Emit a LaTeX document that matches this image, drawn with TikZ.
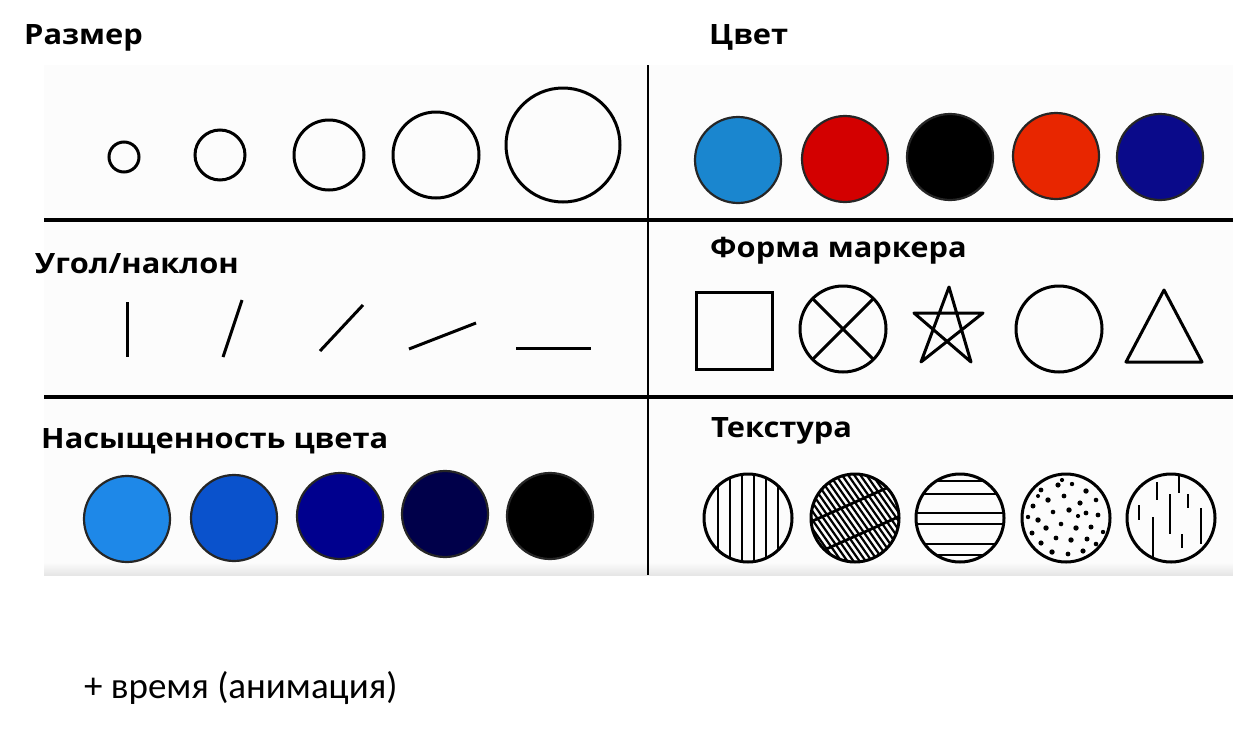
\documentclass[tikz,border=0pt]{standalone}
\usepackage{fontspec}
\newfontfamily\hfont{Open Sans}[FakeStretch=1.1]
\newfontfamily\cfont{Carlito}
\definecolor{cblue}{HTML}{1A86CF}
\definecolor{cred}{HTML}{D30000}
\definecolor{corange}{HTML}{E82600}
\definecolor{cnavy}{HTML}{0A0A8A}
\definecolor{sone}{HTML}{1E88E8}
\definecolor{stwo}{HTML}{0A52CC}
\definecolor{sthree}{HTML}{00008E}
\definecolor{sfour}{HTML}{00004A}
\begin{document}
\begin{tikzpicture}[x=1pt,y=-1pt,
  head/.style={anchor=base west, inner sep=0pt, font=\hfont\bfseries\fontsize{28}{32}\selectfont},
  plain/.style={anchor=base west, inner sep=0pt, font=\cfont\fontsize{37}{40}\selectfont},
  ring/.style={draw=black, line width=3pt},
  disc/.style={draw=black!85, line width=2.2pt},
  tick/.style={line width=3pt},
  hatch/.style={line width=2.2pt},
  grid/.style={draw=black, line width=3pt}]
\useasboundingbox (0,0) rectangle (1233,731);
\fill[white] (0,0) rectangle (1233,731);
\fill[black!1] (44,65) rectangle (1233,575);
\shade[top color=black!1, bottom color=black!10] (44,562) rectangle (1233,575);
% grid
\coordinate (vt) at (648,65); \coordinate (vb) at (648,575);
\coordinate (h1l) at (44,220); \coordinate (h1r) at (1233,220);
\coordinate (h2l) at (44,397); \coordinate (h2r) at (1233,397);
\draw[grid, line width=2.5pt] (vt) -- (vb);
\draw[grid, line width=4pt] (h1l) -- (h1r);
\draw[grid, line width=3.4pt] (h2l) -- (h2r);
% titles
\node[head] (tsize) at (24,44) {Размер};
\node[head] (tcolor) at (709,44) {Цвет};
\node[head] (tangle) at (35,273) {Угол/наклон};
\node[head] (tshape) at (710,257) {Форма маркера};
\node[head] (tsat) at (41,448) {Насыщенность цвета};
\node[head] (ttex) at (711,437) {Текстура};
\node[plain] (ttime) at (84,698) {+ время (анимация)};
% size
\draw[ring] (124,157) circle (15);
\draw[ring] (220,155) circle (25);
\draw[ring] (329,155) circle (35);
\draw[ring] (436,155) circle (43);
\draw[ring] (563,145) circle (57);
% colour
\filldraw[disc, fill=cblue] (738,160) circle (43);
\filldraw[disc, fill=cred] (845,159) circle (43);
\filldraw[disc, fill=black] (950,157) circle (43);
\filldraw[disc, fill=corange] (1056,156) circle (43);
\filldraw[disc, fill=cnavy] (1160,157) circle (43);
% angle
\draw[tick] (127,302) -- (127,357);
\draw[tick] (223,357) -- (242,300);
\draw[tick] (320,351) -- (363,305);
\draw[tick] (409,349) -- (476,323);
\draw[tick] (516,348) -- (591,348);
% marker shapes
\draw[ring] (696,292) rectangle (772,369);
\draw[ring] (843,329) circle (43);
\draw[ring] ({843-30.4},{329-30.4}) -- ({843+30.4},{329+30.4});
\draw[ring] ({843+30.4},{329-30.4}) -- ({843-30.4},{329+30.4});
\draw[ring, line join=round] (949,287) -- (921,362) -- (983,313) -- (914,313) -- (971,362) -- cycle;
\draw[ring] (1059,329) circle (43);
\draw[ring, line join=round] (1164,290) -- (1202,362) -- (1126,362) -- cycle;
% saturation
\filldraw[disc, fill=sone] (127,519) circle (43);
\filldraw[disc, fill=stwo] (234,518) circle (43);
\filldraw[disc, fill=sthree] (340,516) circle (43);
\filldraw[disc, fill=sfour] (445,514) circle (43);
\filldraw[disc, fill=black] (550,516) circle (43);
% texture 1: vertical lines
\begin{scope}
  \clip (748,518) circle (44);
  \foreach \d in {-30,-18,-6,6,18,30} \draw[line width=2.6pt] ({748+\d},470) -- ({748+\d},566);
\end{scope}
\draw[ring] (748,518) circle (44);
% texture 2: dense diagonal hatching crossed by two lines
\begin{scope}
  \clip (855,518) circle (44);
  \foreach \d in {-66,-61,...,66}
    \draw[hatch] ({855+\d*0.819-60*0.574},{518-\d*0.574-60*0.819}) -- ({855+\d*0.819+60*0.574},{518-\d*0.574+60*0.819});
  \foreach \px/\py in {853/503,860/534}
    \draw[line width=2.8pt] ({\px-60*0.914},{\py+60*0.407}) -- ({\px+60*0.914},{\py-60*0.407});
\end{scope}
\draw[ring] (855,518) circle (44);
% texture 3: horizontal lines
\begin{scope}
  \clip (960,518) circle (44);
  \foreach \d in {-37,-24,-5,6,26,37} \draw[line width=2.6pt] (910,{518+\d}) -- (1010,{518+\d});
\end{scope}
\draw[ring] (960,518) circle (44);
% texture 4: dots
\foreach \a/\b/\r in {-25/-28/2.4,-8/-33/2.6,6/-34/2.2,20/-27/2.7,30/-18/2.3,-33/-12/2.5,-18/-18/2.7,-2/-22/2.4,14/-15/2.6,32/-3/2.4,-28/2/2.7,-13/-6/2.3,3/-8/2.7,20/-5/2.4,-34/15/2.5,-20/10/2.7,-5/6/2.3,10/10/2.7,25/9/2.5,37/14/2.2,-25/25/2.6,-10/20/2.4,5/22/2.7,21/21/2.5,-14/34/2.7,2/36/2.4,17/33/2.6,30/26/2.3,-28/-22/2,-38/-1/2.2,-4/-38/2.1,12/-2/2.1} {
  \fill ({1066+\a},{518+\b}) circle (\r);
}
\draw[ring] (1066,518) circle (44);
% texture 5: vertical dashes
\begin{scope}
  \clip (1171,518) circle (44);
  \foreach \x/\a/\b in {1179/470/493,1157/482/500,1188/494/508,1139/505/520,1170/494/534,1153/517/566,1201/508/544,1182/534/548}
    \draw[line width=2.6pt] (\x,\a) -- (\x,\b);
\end{scope}
\draw[ring] (1171,518) circle (44);
\end{tikzpicture}
\end{document}
